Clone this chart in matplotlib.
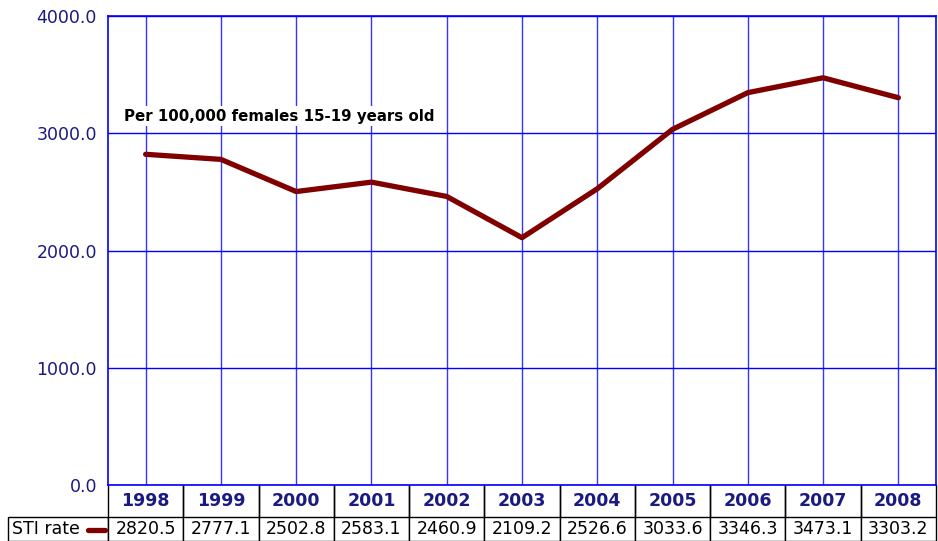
import numpy as np
import matplotlib.pyplot as plt

# Datos
years = ['1998', '1999', '2000', '2001', '2002', '2003', '2004', '2005', '2006', '2007', '2008']
sti_rate = [2820.5, 2777.1, 2502.8, 2583.1, 2460.9, 2109.2, 2526.6, 3033.6, 3346.3, 3473.1, 3303.2]
series_name = 'STI rate'
note = 'Per 100,000 females 15-19 years old'

line_color = '#800000'
label_color = '#1a1a80'

fig = plt.figure(figsize=(9.38, 5.41), dpi=100)
ax = fig.add_axes([108 / 938, 1 - 485 / 541, 828 / 938, 469 / 541])

x = np.arange(len(years))
ax.plot(x, sti_rate, color=line_color, lw=3.8, solid_capstyle='round',
        solid_joinstyle='round', zorder=3)

ax.set_xlim(-0.5, len(years) - 0.5)
ax.set_ylim(0, 4000)
ax.set_xticks(x)
ax.set_xticklabels([])
ax.set_yticks(np.arange(0, 4001, 1000))
ax.set_yticklabels([f'{v:.1f}' for v in np.arange(0, 4001, 1000)])
ax.tick_params(axis='both', length=0)
ax.tick_params(axis='y', pad=8, labelsize=12.5, labelcolor=label_color)
ax.set_axisbelow(True)
ax.grid(axis='x', color='#3535ff', lw=1)
ax.grid(axis='y', color='#0000ff', lw=1)
for s in ax.spines.values():
    s.set_color('#0000ff')
    s.set_linewidth(1.2)

# Nota
ax.text(16 / 828, (485 - 116) / 469, note, transform=ax.transAxes,
        fontsize=10.8, fontweight='bold', color='black', va='center', ha='left',
        bbox=dict(facecolor='white', edgecolor='none', pad=1.5), zorder=2)

# Tabla de datos (anchos y altos en unidades de ejes)
head_h, row_h = 32 / 469, 24 / 469
table = ax.table(cellText=[[f'{v:.1f}' for v in sti_rate]],
                 rowLabels=[series_name], colLabels=years,
                 cellLoc='center', rowLoc='left',
                 bbox=[0, -(head_h + row_h), 1, head_h + row_h])
table._autoColumns = []  # ancho fijo para la columna de etiquetas
table.auto_set_font_size(False)
table.set_fontsize(12.5)
for (r, c), cell in table.get_celld().items():
    cell.set_width(100 / 828 if c == -1 else 1 / len(years))
    cell.set_height(head_h if r == 0 else row_h)
    cell.set_edgecolor('black')
    cell.set_linewidth(1)
    if r == 0:
        cell.visible_edges = 'LR'
        cell.get_text().set_fontweight('bold')
        cell.get_text().set_color(label_color)
    else:
        cell.visible_edges = 'closed'
    if c == -1:
        cell.PAD = 0.04

# Muestra de la serie en la etiqueta de fila
ax.plot([-20 / 828, -3 / 828], [-45 / 469, -45 / 469], transform=ax.transAxes,
        clip_on=False, color=line_color, lw=3.8, solid_capstyle='round', zorder=5)

fig.savefig('out.png', dpi=100)
